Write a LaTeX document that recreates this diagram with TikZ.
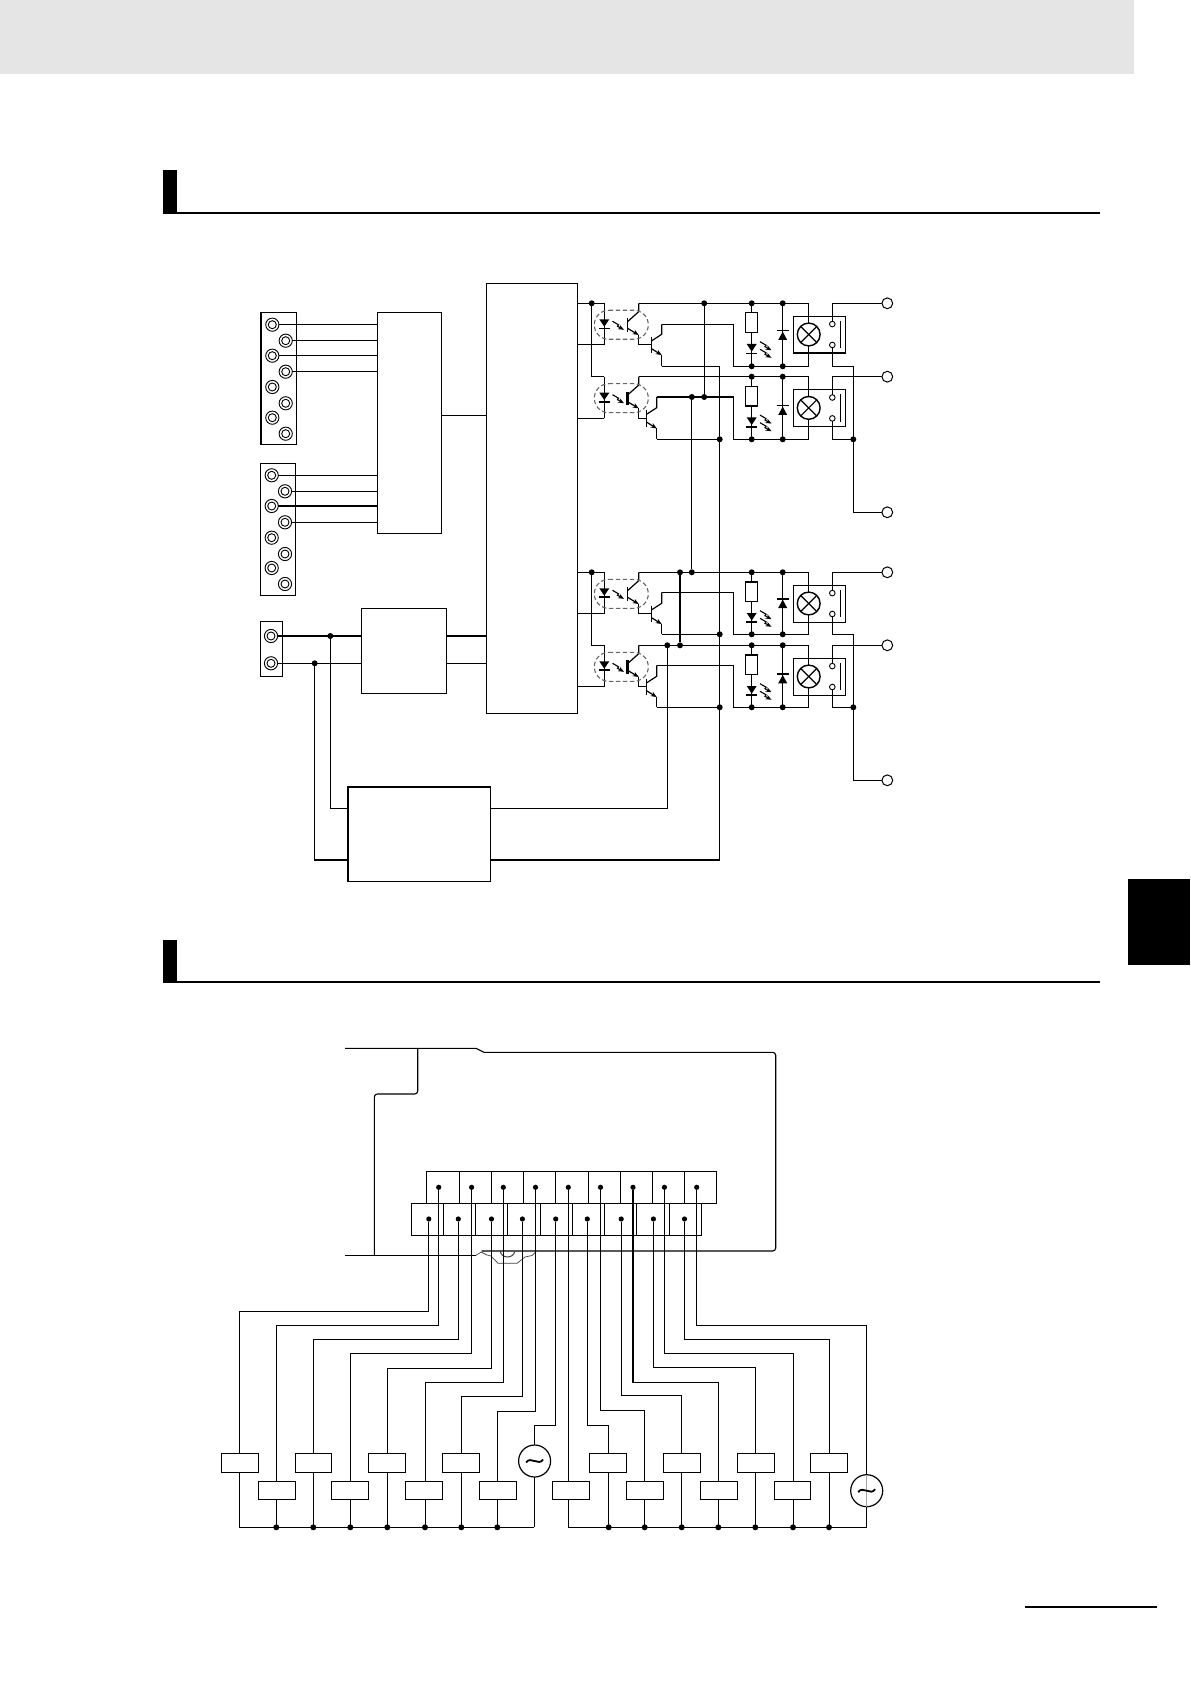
\documentclass[tikz,border=0pt]{standalone}
\usetikzlibrary{fit,arrows.meta}
\tikzset{
  wire/.style={line width=0.6pt,line join=miter},
  cell/.style={draw,wire,inner sep=0pt,outer sep=0pt},
  jdot/.style={circle,fill=black,inner sep=0pt,outer sep=0pt,minimum size=3pt},
  tdot/.style={circle,fill=black,inner sep=0pt,outer sep=0pt,minimum size=2.6pt},
  screwo/.style={circle,draw,line width=0.45pt,inner sep=0pt,outer sep=0pt,minimum size=6.6pt},
  screwi/.style={circle,draw,line width=0.45pt,inner sep=0pt,outer sep=0pt,minimum size=4pt},
  term/.style={circle,draw,fill=white,line width=0.5pt,inner sep=0pt,outer sep=0pt,minimum size=5.4pt},
  contact/.style={circle,draw,fill=white,line width=0.45pt,inner sep=0pt,outer sep=0pt,minimum size=2.8pt},
  lamp/.style={circle,draw,line width=0.7pt,inner sep=0pt,outer sep=0pt,minimum size=11.4pt},
  acsrc/.style={circle,draw,line width=0.6pt,inner sep=0pt,outer sep=0pt,minimum size=16pt},
  ringline/.style={draw=black!60,dashed,dash pattern=on 2.2pt off 1.3pt,line width=0.55pt},
  bolttip/.style={line width=0.55pt,-{Stealth[length=3pt,width=2.4pt]}},
  thinwave/.style={line width=0.35pt,draw=black!75},
}
\newcommand\bolt[2]{\begin{scope}[shift={(#1,#2)}]\draw[bolttip] (0,0)--(6,3.5)--(5,5)--(11.5,8.5);\end{scope}}
\newcommand\screw[3]{\node[screwo] (#1) at (#2,#3) {};\node[screwi] (#1i) at (#2,#3) {};}
% #1 name, #2 y of top rail, #3 bottom rail offset, #4 transistor x shift,
% #5 diode offset, #6 collector y, #7 LED bar width, #8 base bar width
\newcommand\outrow[8]{%
\begin{scope}[shift={(0,#2)}]
  \coordinate (#1A) at (604.3,0);
  \coordinate (#1B) at (604.3,41.5);
  \coordinate (#1T) at (638.7,0);
  \coordinate (#1E) at (719.7,#3);
  \coordinate (#1R) at (853.3,#3);
  \coordinate (#1V) at (733.3,#3);
  % coupler
  \draw[wire] (#1A) -- (#1B);
  \fill (599.3,16)--(609.3,16)--(604.3,23.4)--cycle;
  \draw[line width=#7] (599,25)--(609.6,25);
  \bolt{612.5}{18}
  \draw[line width=#8] (627.5,15)--(627.5,28.4);
  \draw[wire] (627.5,18.4)--(638.7,8.4)--(#1T);
  \draw[wire,-{Stealth[length=3pt,width=2.4pt]}] (627.5,25)--(638.7,31.7);
  \draw[wire] (638.7,31.7)--(638.7,41.5)--(651.7+#4,41.5);
  \draw[ringline] (608.8,7) -- (633.8,7) arc[start angle=-90,end angle=90,radius=14.5] -- (608.8,36) arc[start angle=90,end angle=270,radius=14.5] -- cycle;
  % output transistor
  \begin{scope}[shift={(#4,0)}]
    \coordinate (#1c) at (661.7,#6);
    \coordinate (#1e) at (661.7,#3);
    \draw[wire] (651.7,33.4)--(651.7,50);
    \draw[wire] (651.7,37.5)--(661.7,31)--(#1c);
    \draw[wire,-{Stealth[length=3pt,width=2.4pt]}] (651.7,45.5)--(661.7,51.8);
    \draw[wire] (661.7,51.8)--(#1e);
  \end{scope}
  \draw[wire] (#1e)--(#1E);
  % rail nodes
  \coordinate (#1P) at (751.7,0);
  \coordinate (#1Q) at (782.7,0);
  \coordinate (#1p) at (751.7,#3);
  \coordinate (#1q) at (782.7,#3);
  \node[cell,fit={(745.7,9.6)(757.7,29.3)}] (#1res) {};
  \draw[wire] (#1P)--(#1res.north);
  \draw[wire] (#1res.south)--(#1p);
  \fill (746.7,40.7)--(756.7,40.7)--(751.7,48.3)--cycle;
  \draw[line width=#7] (746.2,50)--(757.2,50);
  \bolt{760}{38.4}
  \bolt{760}{46}
  \draw[wire] (#1Q)--(#1q);
  \begin{scope}[shift={(0,#5)}]
    \fill (778.2,9.3)--(787.2,9.3)--(782.7,1)--cycle;
    \draw[line width=0.8pt] (776.7,0)--(788.7,0);
  \end{scope}
  % relay
  \node[cell,fit={(793.3,13)(845.7,49.8)}] (#1rel) {};
  \node[lamp] (#1lamp) at (808.7,31.2) {};
  \draw[wire] (#1lamp.north east)--(#1lamp.south west);
  \draw[wire] (#1lamp.north west)--(#1lamp.south east);
  \node[contact] (#1ca) at (832.3,20.8) {};
  \node[contact] (#1cb) at (832.3,41.7) {};
  \draw[wire] (840.3,17.6)--(840.3,45);
  \node[term] (#1term) at (887.3,0) {};
  \draw[wire] (#1T) -| (#1lamp.north);
  \draw[wire] (#1lamp.south) |- (#1V) |- (#1c);
  \draw[wire] (#1ca.north) |- (#1term.west);
  \draw[wire] (#1cb.south) |- (#1R);
\end{scope}}
\begin{document}
\begin{tikzpicture}[x=0.5pt,y=-0.5pt]
\useasboundingbox (0,0) rectangle (1190,1684);
% page furniture
\fill[black!10] (0,0) rectangle (1134,74);
\fill (1128,879) rectangle (1190,965);
\fill (163,170) rectangle (177,214);
\draw[line width=1pt] (163,213) -- (1100,213);
\fill (163,940) rectangle (177,983);
\draw[line width=1pt] (163,982) -- (1100,982);
\draw[line width=1pt] (1025,1607) -- (1157,1607);

% ---- block diagram ----
\node[cell,fit={(261,312.3)(296.3,444.3)}] (tb1) {};
\node[cell,fit={(260.3,463.3)(295.7,595.3)}] (tb2) {};
\node[cell,fit={(260.3,621.3)(282.7,676.7)}] (tb3) {};
\node[cell,fit={(377.3,312.3)(441.3,533.3)}] (inp) {};
\node[cell,fit={(486.3,283.3)(577.5,713.3)}] (cpu) {};
\node[cell,fit={(361.3,608.3)(446.7,693.8)}] (psu) {};
\node[cell,fit={(348,787)(490.8,881.8)}] (iso) {};
\foreach \n/\x/\y in {a1/272.3/324.7,a2/285.7/340.7,a3/272.3/355.7,a4/285.7/371.7,a5/272.3/387,a6/285.7/403.3,a7/272.3/417.7,a8/285.7/433.7,
  b1/271.7/475.3,b2/285/491.3,b3/271.7/506,b4/285/522.3,b5/271.7/537.7,b6/285/554,b7/271.7/568,b8/285/584,
  p1/271/636,p2/271/663.3}
  {\screw{\n}{\x}{\y}}
\foreach \n in {a1,a2,a3,a4,b1,b2,b3,b4}
  \draw[wire] (\n.east) -- (inp.west |- \n);
\coordinate (inpout) at (inp.east |- 0,415.3);
\draw[wire] (inpout) -- (cpu.west |- inpout);
\node[jdot] (j1) at (330.3,636) {};
\node[jdot] (j2) at (314.7,663.3) {};
\draw[wire] (p1.east) -- (psu.west |- p1);
\draw[wire] (p2.east) -- (psu.west |- p2);
\draw[wire] (psu.east |- p1) -- (cpu.west |- p1);
\draw[wire] (psu.east |- p2) -- (cpu.west |- p2);
\coordinate (isoA) at (iso.west |- 0,808.7);
\coordinate (isoB) at (iso.west |- 0,860);
\draw[wire] (j1) |- (isoA);
\draw[wire] (j2) |- (isoB);

\outrow{ra}{303.3}{63}{0}{27.4}{21}{0.45pt}{0.7pt}
\outrow{rb}{376.7}{62.6}{-5}{29}{20.3}{1pt}{1.1pt}
\outrow{rc}{572.3}{62}{0}{26.4}{20}{1pt}{0.7pt}
\outrow{rd}{645.3}{62}{-5}{28.7}{20}{1pt}{1.1pt}

% input side of the couplers
\foreach \n/\m in {ra/rb,rc/rd}{
  \node[jdot] (\n in) at (591.7,0 |- \n A) {};
  \draw[wire] (cpu.east |- \n A) -- (\n A);
  \draw[wire] (\n in) |- (\m A);
}
\foreach \n in {ra,rb,rc,rd}
  \draw[wire] (\n B) -- (cpu.east |- \n B);
% rails
\foreach \n in {ra,rb,rc,rd}{
  \node[jdot] (\n dP) at (\n P) {};
  \node[jdot] (\n dQ) at (\n Q) {};
  \node[jdot] (\n dp) at (\n p) {};
  \node[jdot] (\n dq) at (\n q) {};
}
\node[jdot] (dT1) at (704.2,303.3) {};
\node[jdot] (dT2) at (704.2,397) {};
\node[jdot] (dT3) at (691.8,397) {};
\node[jdot] (dT4) at (691.8,572.3) {};
\node[jdot] (dT5) at (680,572.3) {};
\node[jdot] (dT6) at (680,645.3) {};
\node[jdot] (dT7) at (667.3,645.3) {};
\node[jdot] (dE2) at (rbE) {};
\node[jdot] (dE3) at (rcE) {};
\node[jdot] (dE4) at (rdE) {};
\node[jdot] (dR2) at (rbR) {};
\node[jdot] (dR4) at (rdR) {};
\draw[wire] (dT1) -- (dT2);
\draw[wire] (dT3) -- (dT4);
\draw[wire] (dT5) -- (dT6);
\coordinate (isoC) at (iso.east |- 0,808.7);
\coordinate (isoD) at (iso.east |- 0,860);
\draw[wire] (isoC) -| (dT7);
\draw[wire] (isoD) -| (raE);
\node[term] (te1) at (887.3,512.3) {};
\node[term] (te2) at (887.3,780.3) {};
\draw[wire] (raR) |- (te1.west);
\draw[wire] (rcR) |- (te2.west);

% ---- wiring diagram ----
\coordinate (tl) at (345,1048.3);
\coordinate (bl) at (345,1255.3);
\draw[line width=0.55pt] (tl) -- (476,1048.3) -- (484,1052.3) [rounded corners=1.5pt] -- (775.7,1052.3) -- (775.7,1251) -- (481.7,1251);
\draw[line width=0.55pt,rounded corners=1.5pt] (417.7,1048.3) -- (417.7,1094) -- (374.3,1094) -- (374.3,1255.3);
\draw[line width=0.55pt] (bl) -- (476,1255.3);
\draw[thinwave] (476,1255.3)--(481,1252)--(487,1255)--(491,1256)--(498,1263.3)--(517,1263.3)--(525,1257)--(532,1255.5)--(536.7,1251);
\draw[thinwave,line width=0.5pt] (500,1251) .. controls (502,1259) and (513,1259) .. (515,1251);
\foreach \a/\b [count=\i] in {426.3/459.3,459.3/491.3,491.3/523.3,523.3/555.3,555.3/588.3,588.3/620.3,620.3/652.3,652.3/684.3,684.3/716.7}
  \node[cell,fit={(\a,1171.3)(\b,1203.3)}] (u\i) {};
\foreach \a/\b [count=\i] in {411.3/443.3,443.3/475.3,475.3/507.3,507.3/540.3,540.3/572.3,572.3/604.3,604.3/636.3,636.3/669.3,669.3/701.7}
  \node[cell,fit={(\a,1203.3)(\b,1235.3)}] (l\i) {};
\foreach \x [count=\i] in {438.7,471.6,503.3,535.5,568.3,600.5,633,664.4,696.7}
  \node[tdot] (ud\i) at (\x,1187.3) {};
\foreach \x [count=\i] in {428.8,458.3,491.5,522.4,555.7,587.3,621.2,653.4,684.5}
  \node[tdot] (ld\i) at (\x,1219) {};
% coils
\foreach \a/\b [count=\i] in {221.3/258.7,295.3/331.7,368.3/405.7,442.3/479.7,589.3/626.7,663.3/700.7,737.3/774.7,810.3/847.7}
  \node[cell,fit={(\a,1453.6)(\b,1472.7)}] (cu\i) {};
\foreach \a/\b [count=\i] in {258.3/295.7,331.3/368.7,405.3/442.7,479.3/516.7,552.3/589.7,626.3/663.7,700.3/737.7,774.3/810.7}
  \node[cell,fit={(\a,1481.3)(\b,1499.7)}] (cl\i) {};
\coordinate (busL) at (239.3,1527.3);
\coordinate (busM) at (534.4,1527.3);
\coordinate (busN) at (568.3,1527.3);
\coordinate (busR) at (866.7,1527.3);
\draw[wire] (busL) -- (busM);
\draw[wire] (busN) -- (busR);
\foreach \d/\c/\x/\y in {ld1/cu1/239.3/1311.3, ud1/cl1/276.3/1325.3, ld2/cu2/313.3/1339.3, ud2/cl2/350.3/1353.3,
  ld3/cu3/387.3/1368.3, ud3/cl3/425.3/1382.3, ld4/cu4/461.3/1396.7, ud4/cl4/497.3/1411.3,
  ud5/cl5/568.3/1400, ld6/cu5/608.7/1425.3, ud6/cl6/644.7/1410.3, ld7/cu6/681.7/1395.3,
  ud7/cl7/718.7/1382.3, ld8/cu7/755.3/1367.3, ud8/cl8/793.7/1353.3, ld9/cu8/829.3/1339.3}{
  \coordinate (w) at (\x,\y);
  \draw[wire] (\d) |- (w) -- (w |- \c.north);
  \draw[wire] (w |- \c.south) -- (w |- busL);
}
\foreach \x [count=\i] in {276.3,313.3,350.3,387.3,425,461.3,497.3,608.7,644.7,681.7,718.3,755.3,793,829}
  \node[jdot] (bd\i) at (\x,1527.3) {};
\node[acsrc] (ac1) at (534.6,1461) {};
\node[acsrc] (ac2) at (866.7,1490.7) {};
\draw[line width=0.3pt,black!35] (ac2.north) -- (ac2.south);
\foreach \n in {ac1,ac2}{
  \begin{scope}[shift={(\n)}]
    \draw[line width=0.9pt] (-8.5,1.5) .. controls (-4,-5.5) and (4,5.5) .. (8.5,-1.5);
  \end{scope}
}
\coordinate (wa) at (534.4,1425.3);
\coordinate (wb) at (866.7,1325.3);
\draw[wire] (ld5) |- (wa) -- (ac1.north -| wa);
\draw[wire] (ud9) |- (wb) -- (ac2.north);
\draw[wire] (ac1.south -| wa) -- (busM);
\draw[wire] (ac2.south) -- (busR);
\end{tikzpicture}
\end{document}
